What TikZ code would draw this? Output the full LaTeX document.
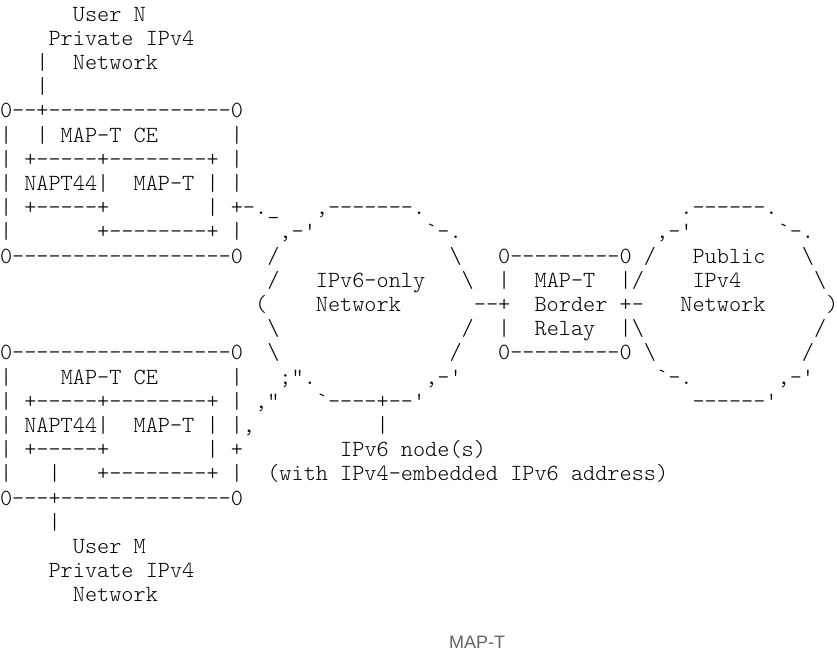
\documentclass[tikz,border=0pt]{standalone}
\usepackage{fontspec}
\setmonofont{lmmonolt10-regular.otf}
\setsansfont{Liberation Sans}
\definecolor{capgray}{HTML}{5F6368}
\begin{document}
\frenchspacing
\begin{tikzpicture}[x=12.15pt, y=-24.2pt,
    asc/.style={font=\ttfamily\fontsize{23.14pt}{24pt}\selectfont, anchor=base west, inner sep=0pt, outer sep=0pt}]
    \useasboundingbox (0pt,0pt) rectangle (837pt,-657pt);

    \begin{scope}[yshift=-21pt]
    % upper CE, user N
    \node[asc] (userN) at (6,0) {User N};
    \node[asc] (privN) at (4,1) {Private IPv4};
    \node[asc] (netN) at (6,2) {Network};
    \foreach \r in {2,3} \node[asc] (linkN\r) at (3,\r) {|};
    \node[asc] (ceNtop) at (0,4) {0--+---------------0};
    \node[asc] (ceNl) at (0,5) {|};
    \node[asc] (ceNlabel) at (3,5) {| MAP-T CE};
    \node[asc] (ceNr) at (19,5) {|};
    \node[asc] (ceNa) at (0,6) {| +-----+--------+ |};
    \node[asc] (ceNb) at (0,7) {| NAPT44|~~MAP-T | |};
    \node[asc] (ceNc) at (0,8) {| +-----+};
    \node[asc] (ceNport) at (17,8) {| +-.\_};
    \node[asc] (ceNd) at (0,9) {|};
    \node[asc] (ceNe) at (8,9) {+--------+ |};
    \node[asc] (ceNbot) at (0,10) {0------------------0};

    % IPv6-only network
    \node[asc] (vsix8) at (26,8) {,-------.};
    \node[asc] (vsix9a) at (23,9) {,-'};
    \node[asc] (vsix9b) at (35,9) {`-.};
    \node[asc] (vsix10a) at (22,10) {/};
    \node[asc] (vsix10b) at (37,10) {\textbackslash};
    \node[asc] (vsix11a) at (22,11) {/};
    \node[asc] (vsixname) at (26,11) {IPv6-only};
    \node[asc] (vsix11b) at (38,11) {\textbackslash};
    \node[asc] (vsix12) at (21,12) {(};
    \node[asc] (vsixnet) at (26,12) {Network};
    \node[asc] (vsix13a) at (22,13) {\textbackslash};
    \node[asc] (vsix13b) at (38,13) {/};
    \node[asc] (vsix14a) at (22,14) {\textbackslash};
    \node[asc] (vsix14b) at (37,14) {/};
    \node[asc] (vsix15a) at (23,15) {;".};
    \node[asc] (vsix15b) at (35,15) {,-'};
    \node[asc] (vsix16a) at (21,16) {,"};
    \node[asc] (vsix16b) at (26,16) {`----+--'};
    \node[asc] (hostlink) at (31,17) {|};
    \node[asc] (host) at (28,18) {IPv6 node(s)};
    \node[asc] (hostnote) at (22,19) {(with IPv4-embedded IPv6 address)};

    % border relay
    \node[asc] (brtop) at (41,10) {0---------0};
    \node[asc] (bra) at (41,11) {|~~MAP-T~~|/};
    \node[asc] (brb) at (39,12) {--+~~Border +-};
    \node[asc] (brc) at (41,13) {|~~Relay~~|\textbackslash};
    \node[asc] (brbot) at (41,14) {0---------0};

    % public IPv4 network
    \node[asc] (pub8) at (56,8) {.------.};
    \node[asc] (pub9a) at (54,9) {,-'};
    \node[asc] (pub9b) at (64,9) {`-.};
    \node[asc] (pub10a) at (53,10) {/};
    \node[asc] (pubname) at (57,10) {Public};
    \node[asc] (pub10b) at (66,10) {\textbackslash};
    \node[asc] (pubv4) at (57,11) {IPv4};
    \node[asc] (pub11) at (67,11) {\textbackslash};
    \node[asc] (pubnet) at (56,12) {Network};
    \node[asc] (pub12) at (68,12) {)};
    \node[asc] (pub13) at (67,13) {/};
    \node[asc] (pub14a) at (53,14) {\textbackslash};
    \node[asc] (pub14b) at (66,14) {/};
    \node[asc] (pub15a) at (54,15) {`-.};
    \node[asc] (pub15b) at (64,15) {,-'};
    \node[asc] (pub16) at (57,16) {------'};

    % lower CE, user M
    \node[asc] (ceMtop) at (0,14) {0------------------0};
    \node[asc] (ceMl) at (0,15) {|};
    \node[asc] (ceMlabel) at (5,15) {MAP-T CE};
    \node[asc] (ceMr) at (19,15) {|};
    \node[asc] (ceMa) at (0,16) {| +-----+--------+ |};
    \node[asc] (ceMb) at (0,17) {| NAPT44|~~MAP-T | |,};
    \node[asc] (ceMc) at (0,18) {| +-----+};
    \node[asc] (ceMport) at (17,18) {| +};
    \node[asc] (ceMd) at (0,19) {|};
    \node[asc] (ceMe) at (4,19) {|~~~+--------+ |};
    \node[asc] (ceMbot) at (0,20) {0---+--------------0};
    \node[asc] (linkM) at (4,21) {|};
    \node[asc] (userM) at (6,22) {User M};
    \node[asc] (privM) at (4,23) {Private IPv4};
    \node[asc] (netM) at (6,24) {Network};
    \end{scope}

    \node[font=\sffamily\fontsize{18pt}{20pt}\selectfont, text=capgray, anchor=base, inner sep=0pt] (caption) at (477pt,-648pt) {MAP-T};
\end{tikzpicture}
\end{document}
